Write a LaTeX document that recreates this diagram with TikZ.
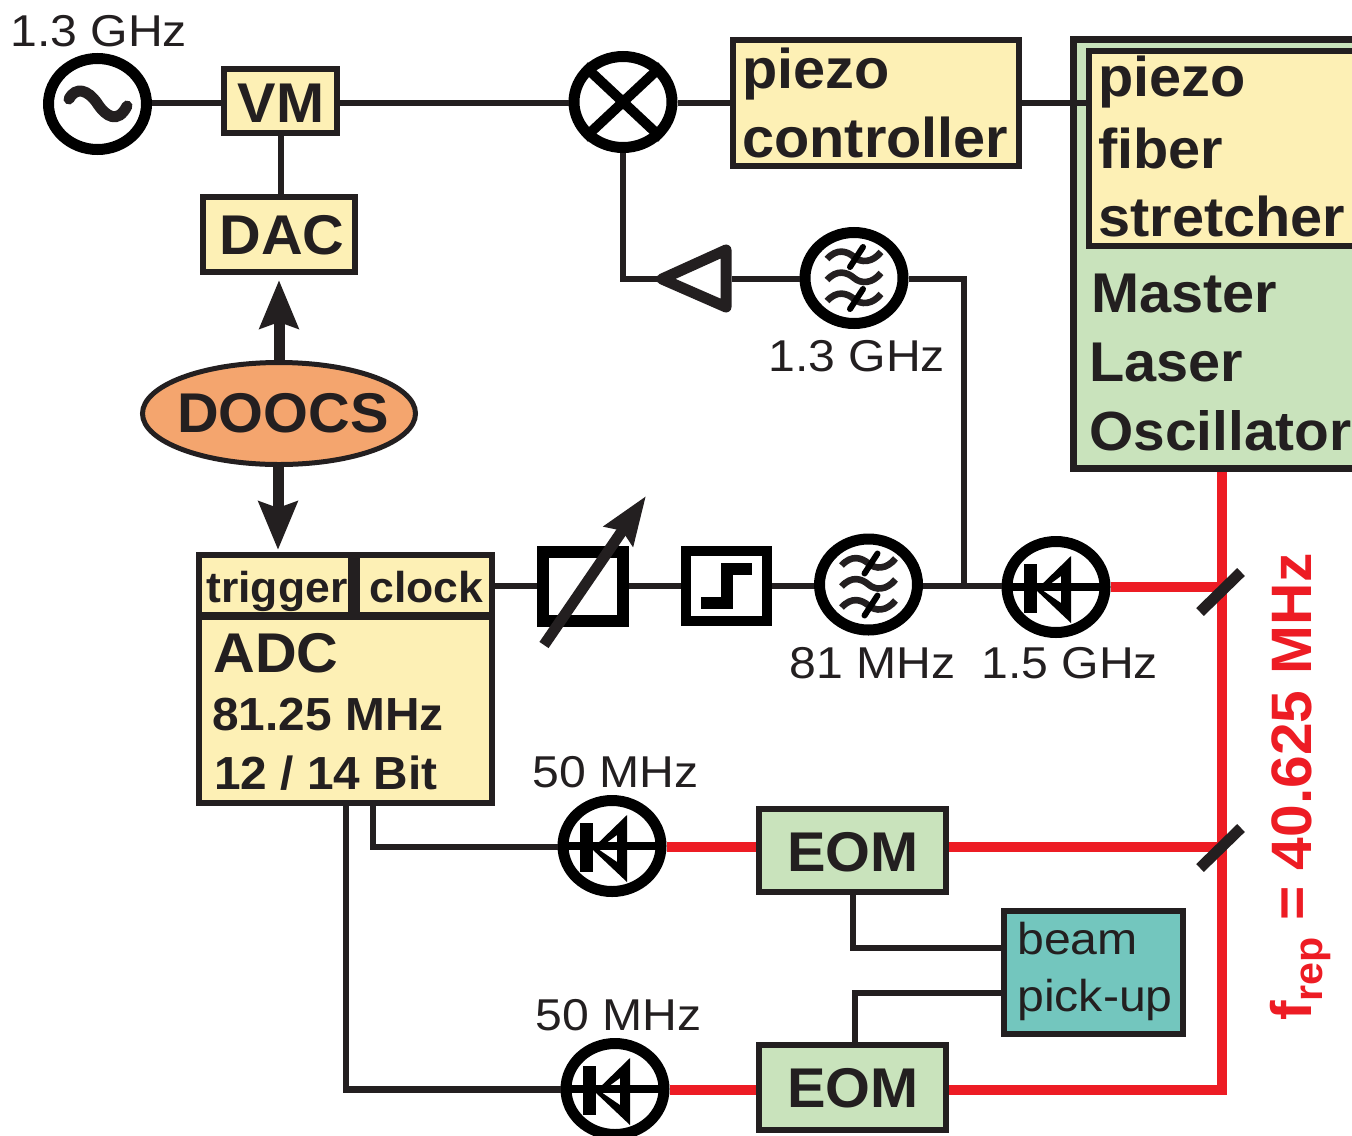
\documentclass[tikz,border=0pt]{standalone}
\usepackage{fontspec}
\setmainfont[BoldFeatures={FakeStretch=1.03},UprightFeatures={FakeStretch=1.08}]{Liberation Sans}
\usetikzlibrary{shapes.geometric,arrows.meta}
\definecolor{ink}{HTML}{231F20}
\definecolor{yel}{HTML}{FDF0B5}
\definecolor{grn}{HTML}{C9E3BC}
\definecolor{teal1}{HTML}{73C6BE}
\definecolor{org}{HTML}{F4A56E}
\definecolor{redl}{HTML}{ED1C24}
\tikzset{
  box/.style={draw=ink,line width=3pt,inner sep=0,rectangle},
  ybox/.style={box,fill=yel},
  gbox/.style={box,fill=grn},
  ring/.style={draw=black,line width=5.5pt,fill=white,ellipse,inner sep=0,minimum width=49pt,minimum height=45.5pt},
  wire/.style={draw=ink,line width=3.3pt},
  rwire/.style={draw=redl,line width=5pt},
  tipline/.style={draw=ink,line width=5.5pt,-{Stealth[length=24pt,width=19pt,inset=3pt]}},
  mirror/.style={draw=ink,line width=5.5pt},
  big/.style={inner sep=0,anchor=base west,text=ink,font=\bfseries\fontsize{28pt}{28pt}\selectfont},
  bigc/.style={big,anchor=base},
  mid/.style={inner sep=0,anchor=base west,text=ink,font=\bfseries\fontsize{23.2pt}{23.2pt}\selectfont},
  small/.style={inner sep=0,anchor=base west,text=ink,font=\bfseries\fontsize{21.6pt}{21.6pt}\selectfont},
  thin/.style={inner sep=0,anchor=base west,text=ink,font=\fontsize{22.3pt}{22.3pt}\selectfont},
  pics/diodeglyph/.style={code={
    \draw[line width=4pt,black] (-44,0) -- (44,0);
    \fill[black] (-32,-23) rectangle (-19,26);
    \fill[black,even odd rule] (-20,3) -- (15,-31) -- (15,36) -- cycle (-14,3) -- (5,16) -- (5,-11) -- cycle;
  }},
  pics/wave/.style={code={
    \draw[ink,line width=3.3pt] (-27,2) .. controls (-17,-9) and (-7,-6) .. (0,0) .. controls (7,6) and (18,6) .. (27,-5);
  }},
  pics/filterglyph/.style={code={
    \pic at (0,-21) {wave};
    \pic at (0,0) {wave};
    \pic at (0,21) {wave};
    \draw[black,line width=3pt,line cap=round] (-4,-11) -- (9,-31);
    \draw[black,line width=3pt,line cap=round] (-4,31) -- (9,11);
  }},
}
\begin{document}
\begin{tikzpicture}[x=0.5pt,y=-0.5pt]
\useasboundingbox (0,0) rectangle (1352,1135);
% boxes
\node[ybox,minimum width=56.5pt,minimum height=32pt] (VM) at (280.5,101) {};
\node[ybox,minimum width=76pt,minimum height=37.5pt] (DAC) at (279,234.5) {};
\node[ybox,minimum width=143pt,minimum height=63pt] (PC) at (876,103) {};
\node[gbox,line width=3.5pt,minimum width=161.5pt,minimum height=214.5pt] (ML) at (1235,254) {};
\node[ybox,minimum width=154pt,minimum height=97.5pt] (PF) at (1243,148.5) {};
\node[ybox,minimum width=146.5pt,minimum height=93pt] (ADC) at (345.5,710) {};
\node[ybox,minimum width=76pt,minimum height=30pt] (TR) at (275,584.5) {};
\node[ybox,minimum width=67.5pt,minimum height=30pt] (CL) at (424.5,584.5) {};
\node[gbox,minimum width=93.5pt,minimum height=41.5pt] (E1) at (852.5,850.5) {};
\node[gbox,minimum width=93.5pt,minimum height=42.5pt] (E2) at (852.5,1087.5) {};
\node[box,fill=teal1,minimum width=89.5pt,minimum height=61.5pt] (BP) at (1093.5,972.5) {};
\node[draw=ink,line width=2.5pt,fill=org,ellipse,inner sep=0,minimum width=136.5pt,minimum height=51pt] (DO) at (279,413.5) {};
% round elements
\node[ring] (OSC) at (97.5,104) {};
\node[ring] (MX) at (623,102) {};
\node[ring] (F1) at (854,278) {};
\node[ring] (F2) at (868.5,584.5) {};
\node[ring] (D1) at (1056,587) {};
\node[ring] (D2) at (612,846) {};
\node[ring] (D3) at (615,1089) {};
\node[draw=black,line width=6pt,inner sep=0,rectangle,minimum width=40pt,minimum height=34.5pt] (AT) at (583,586.5) {};
\node[draw=black,line width=5pt,inner sep=0,rectangle,minimum width=40.5pt,minimum height=35pt] (ST) at (726.5,586) {};
% coordinates
\coordinate (rowA) at (0,103);
\coordinate (rowB) at (0,279);
\coordinate (rowC) at (0,586);
\coordinate (rowD) at (0,847);
\coordinate (rowE) at (0,1089.5);
\coordinate (ampTip) at (665,279);
\coordinate (ampBase) at (732,279);
\coordinate (junc) at (964,586);
\coordinate (adcA) at (373,803);
\coordinate (adcB) at (346,803);
\coordinate (rTop) at (1222,472);
\coordinate (rB) at (1222,1089.5);
\coordinate (rM1) at (1222,587);
\coordinate (rM2) at (1222,847);
\coordinate (e1B) at (853,895);
\coordinate (e2T) at (855,1042);
\coordinate (bpA) at (1001,948);
\coordinate (bpB) at (1001,993);
% black connectors
\draw[wire] (OSC.east |- rowA) -- (VM.west |- rowA);
\draw[wire] (VM.east |- rowA) -- (MX.west |- rowA);
\draw[wire] (MX.east |- rowA) -- (PC.west |- rowA);
\draw[wire] (PC.east |- rowA) -- (PF.west |- rowA);
\draw[wire] (VM.south -| 281,0) -- (DAC.north -| 281,0);
\draw[wire] (MX.south) |- (ampTip);
\draw[wire] (ampBase) -- (F1.west |- rowB);
\draw[wire] (F1.east |- rowB) -| (junc);
\draw[wire] (F2.east |- rowC) -- (D1.west |- rowC);
\draw[wire] (CL.east |- rowC) -- (AT.west |- rowC);
\draw[wire] (AT.east |- rowC) -- (ST.west |- rowC);
\draw[wire] (ST.east |- rowC) -- (F2.west |- rowC);
\draw[wire] (adcA) |- (D2.west |- rowD);
\draw[wire] (adcB) |- (D3.west |- rowE);
\draw[wire] (e1B) |- (bpA);
\draw[wire] (e2T) |- (bpB);
% red connectors
\draw[rwire] (rTop) -- (rB) -- (E2.east |- rB);
\draw[rwire] (D1.east) -- (rM1);
\draw[rwire] (E1.east |- rM2) -- (rM2);
\draw[rwire] (D2.east |- rowD) -- (E1.west |- rowD);
\draw[rwire] (D3.east |- rowE) -- (E2.west |- rowE);
% mirrors
\coordinate (m1a) at (1200,612);
\coordinate (m1b) at (1241,572);
\coordinate (m2a) at (1200,868);
\coordinate (m2b) at (1241,828);
\draw[mirror] (m1a) -- (m1b);
\draw[mirror] (m2a) -- (m2b);
% thick arrows
\coordinate (arU) at (279,280);
\coordinate (arL) at (278,550);
\draw[tipline] (DO.north) -- (arU);
\draw[tipline] (DO.south -| arL) -- (arL);
\coordinate (atS) at (544,645);
\coordinate (atT) at (646,496);
\draw[tipline,-{Stealth[length=24pt,width=17pt,inset=3pt]}] (atS) -- (atT);
% amplifier
\coordinate (t1) at (662,279);
\coordinate (t2) at (726,250);
\coordinate (t3) at (726,307);
\draw[ink,line width=5.5pt,line join=round,fill=white] (t1) -- (t2) -- (t3) -- cycle;
% glyphs
\draw[ink,line width=5.5pt,line cap=round] (69,99) .. controls (76,86) and (88,90) .. (97,103) .. controls (106,117) and (118,124) .. (127,106);
\draw[black,line width=5pt] (MX.north west) -- (MX.south east);
\draw[black,line width=5pt] (MX.north east) -- (MX.south west);
\pic at (854,278) {filterglyph};
\pic at (868.5,584.5) {filterglyph};
\pic at (1056,587) {diodeglyph};
\pic at (612,846) {diodeglyph};
\pic at (615,1089) {diodeglyph};
\coordinate (s1) at (701,602.5);
\coordinate (s2) at (727,569);
\coordinate (s3) at (752,569);
\draw[black,line width=6pt] (s1) -| (s2) -- (s3);
% labels
\node[thin] (l1) at (10,46) {1.3 GHz};
\node[bigc] (tVM) at (281,122) {VM};
\node[bigc] (tDAC) at (282,254) {DAC};
\node[big] (tP1) at (742,88) {piezo};
\node[big] (tP2) at (742,157) {controller};
\node[big] (tF1) at (1098,96) {piezo};
\node[big] (tF2) at (1098,168) {fiber};
\node[big] (tF3) at (1098,236) {stretcher};
\node[big] (tM1) at (1091,312) {Master};
\node[big] (tM2) at (1089,381) {Laser};
\node[big,font=\bfseries\fontsize{27.6pt}{27.6pt}\selectfont] (tM3) at (1089,450) {Oscillator};
\node[thin] (l2) at (768,371) {1.3 GHz};
\node[bigc] (tDO) at (283,432) {DOOCS};
\node[small] (tTR) at (206,602) {trigger};
\node[small] (tCL) at (369,602) {clock};
\node[big] (tA1) at (213,672) {ADC};
\node[mid] (tA2) at (212,730) {81.25 MHz};
\node[mid] (tA3) at (214,789) {12 / 14 Bit};
\node[thin] (l3) at (789,678) {81 MHz};
\node[thin] (l4) at (981,678) {1.5 GHz};
\node[thin] (l5) at (532,787) {50 MHz};
\node[thin] (l6) at (535,1030) {50 MHz};
\node[bigc] (tE1) at (853,871) {EOM};
\node[bigc] (tE2) at (853,1107) {EOM};
\node[thin] (tB1) at (1017,954) {beam};
\node[thin] (tB2) at (1017,1011) {pick-up};
\node[inner sep=0,anchor=base west,rotate=90,text=redl,font=\bfseries\fontsize{28.5pt}{28.5pt}\selectfont] (tR) at (1311,1021) {f\raisebox{-0.2em}{\fontsize{20pt}{20pt}\selectfont rep} = 40.625 MHz};
\end{tikzpicture}
\end{document}
